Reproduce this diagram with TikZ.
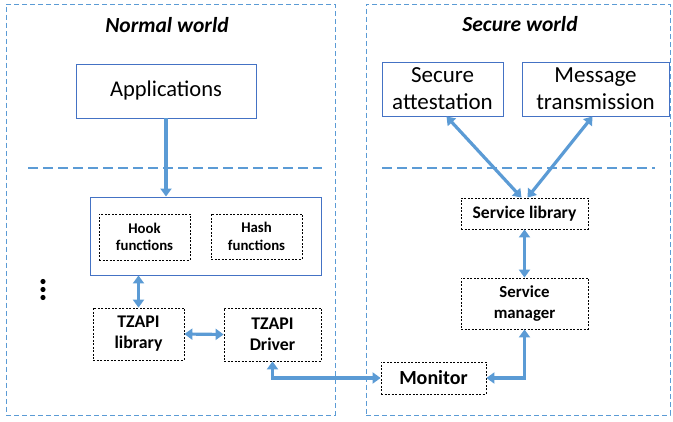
\documentclass[tikz,border=0pt]{standalone}
\usepackage{fontspec}
\setmainfont{Carlito}
\usetikzlibrary{arrows.meta}
\definecolor{boxblue}{HTML}{4472C4}
\definecolor{arrblue}{HTML}{5B9BD5}
\newcommand{\fsz}[2]{\fontsize{#1}{#2}\selectfont}
\begin{document}
\begin{tikzpicture}[x=1pt,y=-1pt,
 world/.style={draw=arrblue, dash pattern=on 5pt off 3pt, line width=0.9pt, inner sep=0pt},
 sep/.style={draw=arrblue, dash pattern=on 10pt off 5pt, line width=1.1pt},
 bluebox/.style={draw=boxblue, line width=0.9pt, align=center, inner sep=0pt},
 dbox/.style={draw=black, dash pattern=on 2pt off 1.5pt, line width=0.8pt, align=center, inner sep=0pt},
 conn/.style={draw=arrblue, line width=3.2pt, -{Triangle[length=8pt,width=11pt]}},
 biconn/.style={draw=arrblue, line width=3.2pt, {Triangle[length=8pt,width=11pt]}-{Triangle[length=8pt,width=11pt]}},
 title/.style={font=\bfseries\itshape\fsz{21.5}{25}}
]
\useasboundingbox (0,0) rectangle (673,422);
% worlds
\node[world, minimum width=329pt, minimum height=411pt] (nw) at (170.5,209.5) {};
\node[world, minimum width=304pt, minimum height=411pt] (sw) at (518,209.5) {};
\node[title] (nwt) at (167,25) {Normal world};
\node[title] (swt) at (520,24) {Secure world};
% separators
\draw[sep] (28,168) -- (322,168);
\draw[sep] (382,168) -- (655,168);
% normal world
\node[bluebox, minimum width=180pt, minimum height=54pt, font=\fsz{22.5}{27}] (app) at (166,91) {Applications};
\node[bluebox, minimum width=231pt, minimum height=78pt] (hb) at (205.5,236) {};
\node[dbox, minimum width=91pt, minimum height=46pt, font=\bfseries\fsz{14.8}{17.5}] (hook) at (144.5,237) {Hook\\functions};
\node[dbox, minimum width=91pt, minimum height=45pt, font=\bfseries\fsz{14.8}{17.5}] (hash) at (256.5,236.5) {Hash\\functions};
\fill (43,281.5) circle (2.6pt) (43,289.5) circle (2.6pt) (43,297.5) circle (2.6pt);
\node[dbox, minimum width=91pt, minimum height=52pt, font=\bfseries\fsz{17.8}{21}] (tzlib) at (138.5,334) {TZAPI\\library};
\node[dbox, minimum width=97pt, minimum height=53pt, font=\bfseries\fsz{17.8}{21}] (tzdrv) at (272.5,334.5) {TZAPI\\Driver};
% secure world
\node[bluebox, minimum width=121pt, minimum height=54pt, font=\fsz{23}{27}] (att) at (442.5,89) {Secure\\attestation};
\node[bluebox, minimum width=147pt, minimum height=54pt, font=\fsz{23}{27}] (msg) at (595.5,89) {Message\\transmission};
\node[dbox, minimum width=127pt, minimum height=31pt, font=\bfseries\fsz{17.6}{21}] (slib) at (524.5,213.5) {Service library};
\node[dbox, minimum width=127pt, minimum height=51pt, font=\bfseries\fsz{16.8}{20.5}] (smgr) at (524.5,303.5) {Service\\manager};
\node[dbox, minimum width=105pt, minimum height=32pt, font=\bfseries\fsz{20}{23}] (mon) at (433.5,378) {Monitor};
% connectors
\draw[conn] (app.south) -- (hb.north -| app.south);
\draw[biconn] (tzlib.north |- hb.south) -- (tzlib.north);
\draw[biconn] (tzlib.east) -- (tzdrv.west);
\draw[biconn] (tzdrv.south) |- (mon.west);
\draw[biconn] (smgr.south) |- (mon.east);
\draw[biconn] (slib.south) -- (smgr.north);
\draw[biconn] ([xshift=4pt]att.south) -- ([xshift=-3pt]slib.north);
\draw[biconn] ([xshift=-3pt]msg.south) -- ([xshift=3pt]slib.north);
\end{tikzpicture}
\end{document}
